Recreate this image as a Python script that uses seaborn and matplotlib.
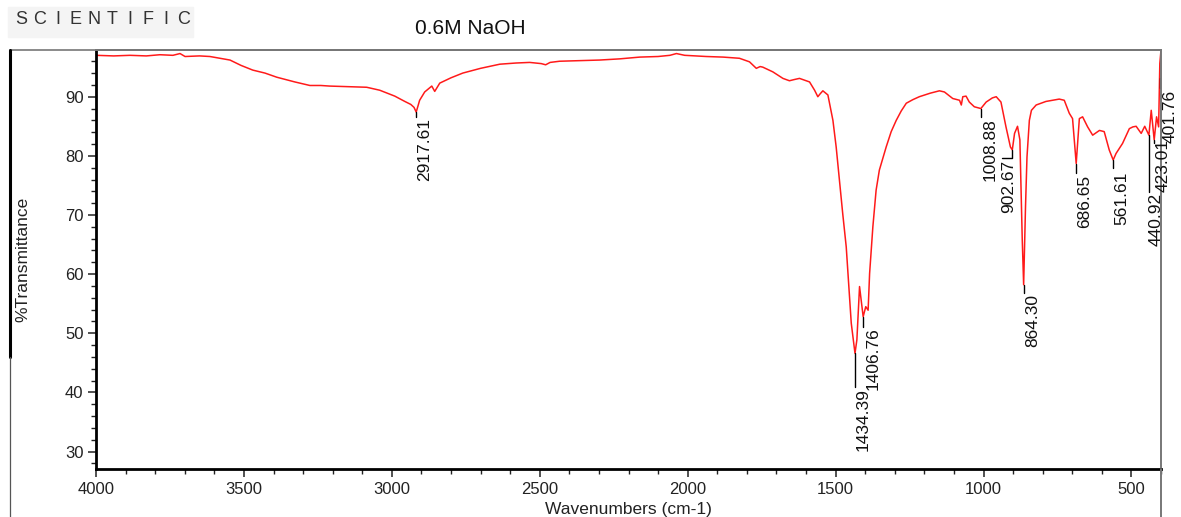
import numpy as np
import pandas as pd
import matplotlib
matplotlib.use("Agg")
import matplotlib.pyplot as plt
from matplotlib.lines import Line2D
from matplotlib.patches import Rectangle
from matplotlib.ticker import MultipleLocator
import seaborn as sns

# FTIR spectrum of the 0.6M NaOH sample (wavenumber in cm-1, %T)
wavenumber = [
    4000, 3940, 3885, 3830, 3784, 3740, 3716, 3699, 3650, 3615, 3580, 3547,
    3510, 3470, 3429, 3389, 3328, 3277, 3240, 3210, 3150, 3085, 3041, 2990,
    2956, 2936, 2925, 2917.61, 2906, 2889, 2865, 2855, 2838, 2800, 2760, 2700,
    2635, 2580, 2534, 2495, 2480, 2465, 2433, 2370, 2298, 2230, 2162, 2100,
    2060, 2038, 2010, 1975, 1937, 1880, 1825, 1791, 1768, 1755, 1746, 1712,
    1678, 1656, 1640, 1622, 1588, 1571, 1560, 1552, 1543, 1526, 1509, 1498,
    1487, 1476, 1464, 1455, 1447, 1434.39, 1428, 1419, 1406.76, 1398, 1390,
    1385, 1374, 1363, 1352, 1329, 1312, 1295, 1278, 1261, 1239, 1217, 1180,
    1149, 1132, 1104, 1081, 1075, 1070, 1059, 1048, 1031, 1008.88, 991, 970,
    957, 941, 924, 909, 902.67, 895, 885, 877, 869, 864.30, 858, 853, 845, 838,
    822, 789, 744, 727, 710, 699, 686.65, 681, 676, 665, 648, 631, 608, 592,
    575, 561.61, 552, 530, 507, 495, 484, 467, 455, 440.92, 433, 423.01, 415,
    408, 404, 400,
]
transmittance = [
    97.0, 96.9, 97.0, 96.9, 97.1, 97.0, 97.3, 96.8, 96.9, 96.8, 96.5, 96.2,
    95.3, 94.5, 94.0, 93.3, 92.5, 91.9, 91.9, 91.8, 91.7, 91.6, 91.1, 90.1,
    89.2, 88.7, 88.2, 87.4, 89.4, 90.8, 91.8, 90.9, 92.3, 93.2, 94.0, 94.8,
    95.5, 95.7, 95.8, 95.6, 95.4, 95.8, 96.0, 96.1, 96.2, 96.4, 96.7, 96.8,
    97.0, 97.3, 97.0, 96.9, 96.8, 96.7, 96.5, 95.9, 94.8, 95.1, 95.0, 94.2,
    93.1, 92.7, 92.9, 93.1, 92.5, 91.1, 90.0, 90.5, 91.0, 90.3, 86.0, 81.5,
    75.9, 70.3, 64.6, 57.9, 51.7, 46.6, 48.9, 57.9, 52.8, 54.5, 53.9,
    60.1, 68.0, 74.2, 77.6, 81.5, 84.1, 86.0, 87.6, 88.9, 89.5, 90.0, 90.6,
    91.0, 90.8, 89.7, 89.4, 88.6, 90.0, 90.1, 89.1, 88.3, 88.0, 89.1, 89.8,
    90.0, 89.1, 84.9, 81.5, 81.0, 83.8, 85.0, 82.7, 65.8, 58.2, 71.4, 79.8, 86.0, 87.7,
    88.6, 89.2, 89.6, 89.4, 87.2, 86.3, 78.7, 82.7, 86.3, 86.6, 84.9, 83.5, 84.3, 84.1,
    81.0, 79.3, 80.4, 82.1, 84.6, 84.9, 85.0, 83.8, 85.0, 83.5, 87.7, 82.7, 86.6,
    84.9, 95.6, 97.9,
]

# Labelled peaks
peak_wn = [2917.61, 1434.39, 1406.76, 1008.88, 902.67, 864.30,
           686.65, 561.61, 440.92, 423.01, 401.76]

# Label layout: leader line end (%T), text centre (cm-1), text top (%T)
leader_end = [86.6, 40.9, 51.1, 86.5, 79.7, 56.8, 77.1, 77.9, 73.9, 82.1, 91.4]
leader_start = [None, None, None, None, None, None, None, None, None, None, 93.1]
text_x = [2889, 1406, 1374, 978, 916, 835, 657, 532, 417, 392, 368]
text_top = [86.4, 40.8, 51.0, 86.3, 79.3, 56.6, 76.8, 77.4, 73.7, 82.9, 91.1]

x_ticks = [4000, 3500, 3000, 2500, 2000, 1500, 1000, 500]
y_ticks = [30, 40, 50, 60, 70, 80, 90]

header_letters = list("SCIENTIFIC")

df = pd.DataFrame({"wavenumber": wavenumber, "transmittance": transmittance})
peak_t = dict(zip(wavenumber, transmittance))

sns.set_style("ticks")
plt.rcParams["font.family"] = ["Liberation Sans", "DejaVu Sans"]

W, H = 1181, 517
fig = plt.figure(figsize=(W / 100, H / 100), dpi=100)
fig.patch.set_facecolor("white")

left, right, top, bottom = 96, 1161, 50, 469.3
ax = fig.add_axes([left / W, 1 - bottom / H, (right - left) / W, (bottom - top) / H])

sns.lineplot(data=df, x="wavenumber", y="transmittance", ax=ax,
             color="#ff1a1a", linewidth=1.1, estimator=None, sort=False)

ax.set_xlim(4000, 400)
ax.set_ylim(27.0, 97.9)
ax.set_xticks(x_ticks)
ax.set_yticks(y_ticks)
ax.xaxis.set_minor_locator(MultipleLocator(100))
ax.yaxis.set_minor_locator(MultipleLocator(2))
ax.tick_params(which="major", direction="out", length=6, width=1.1,
               labelsize=12, colors="#222222", pad=3)
ax.tick_params(which="minor", direction="out", length=3.5, width=1.0, colors="#222222")

for side in ("left", "bottom"):
    ax.spines[side].set_color("black")
    ax.spines[side].set_linewidth(2.0)
for side in ("top", "right"):
    ax.spines[side].set_color("#777777")
    ax.spines[side].set_linewidth(1.4)

ax.set_xlabel("Wavenumbers (cm-1)", fontsize=12.5, color="#222222", labelpad=4)
ax.set_ylabel("%Transmittance", fontsize=12.5, color="#222222")
ax.yaxis.set_label_coords((30 - left) / (right - left), 0.5)

# Peak markers and labels
for wn, end, start, tx, tt in zip(peak_wn, leader_end, leader_start, text_x, text_top):
    y0 = peak_t.get(wn, start) if start is None else start
    if wn == 902.67:
        ax.plot([wn, wn, 937], [y0, end, end], color="black", lw=1.0)
    else:
        ax.plot([wn, wn], [y0, end], color="black", lw=1.0)
    ax.text(tx, tt, f"{wn:.2f}", rotation=90, ha="center", va="top",
            fontsize=12.5, color="#111111", clip_on=False)

# Title and header
fig.text(470 / W, 1 - 28 / H, "0.6M NaOH", fontsize=15, ha="center", va="center",
         color="#111111")
fig.add_artist(Rectangle((8 / W, 1 - 37 / H), 185 / W, 30 / H,
                         transform=fig.transFigure, color="#f4f4f4", zorder=0))
pitch = (184 - 21.5) / (len(header_letters) - 1)
for i, ch in enumerate(header_letters):
    fig.text((21.5 + i * pitch) / W, 1 - 20 / H, ch, fontsize=13, ha="center",
             va="center", color="#333333")

# Outer panel frame
fx = 10 / W
fig.add_artist(Line2D([fx, right / W], [1 - top / H, 1 - top / H],
                      transform=fig.transFigure, color="#777777", lw=1.2))
fig.add_artist(Line2D([fx, fx], [1 - top / H, 1 - 357 / H],
                      transform=fig.transFigure, color="black", lw=2.2))
fig.add_artist(Line2D([fx, fx], [1 - 357 / H, 0],
                      transform=fig.transFigure, color="#555555", lw=0.9))
fig.add_artist(Line2D([right / W, right / W], [1 - bottom / H, 0],
                      transform=fig.transFigure, color="#777777", lw=1.4))

fig.savefig("out.png", dpi=100, facecolor="white")
